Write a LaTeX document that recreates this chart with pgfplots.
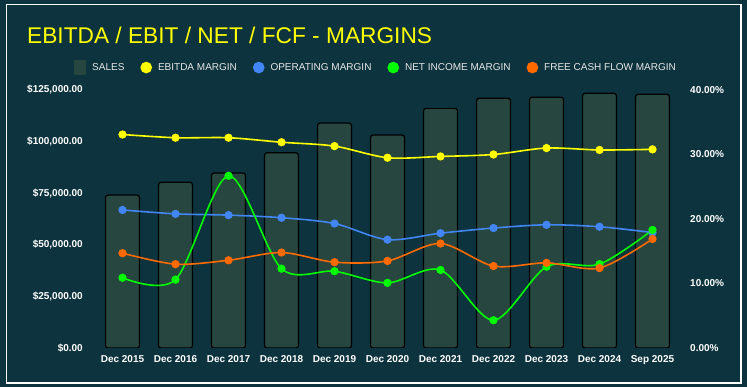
\documentclass[border=0pt]{standalone}
\usepackage{pgfplots}
\pgfplotsset{compat=1.18}
\usepackage{fontspec}
\setmainfont{Liberation Sans}
\definecolor{bgcol}{HTML}{0D343E}
\definecolor{barfill}{HTML}{27463F}
\definecolor{ylw}{HTML}{FFFF00}
\definecolor{blu}{HTML}{4285F4}
\definecolor{grn}{HTML}{00FF00}
\definecolor{org}{HTML}{FF6A00}
\definecolor{lgtext}{HTML}{E6E6E6}
\begin{document}
\begin{tikzpicture}
\useasboundingbox (0,0) rectangle (747bp,387bp);
\fill[bgcol] (0,0) rectangle (747bp,387bp);
\draw[white, line width=1.3bp] (6.5bp,4bp) rectangle (741bp,382.5bp);
\node[anchor=base west, text=ylw, inner sep=0pt, font=\fontsize{22.7bp}{26bp}\selectfont] at (27bp,343bp) {EBITDA / EBIT / NET / FCF - MARGINS};
\pgfplotsset{
  common/.style={
    at={(96bp,39bp)}, anchor=south west, scale only axis,
    width=583bp, height=258bp,
    xmin=-0.5, xmax=10.5,
    axis line style={draw=none},
    major tick style={draw=none}, minor tick style={draw=none},
    tick label style={text=white, font=\fontsize{10bp}{12bp}\selectfont\bfseries},
    scaled y ticks=false,
  }
}
\begin{axis}[common,
  axis y line*=left, axis x line*=bottom,
  ymin=0, ymax=125000,
  xtick={0,1,2,3,4,5,6,7,8,9,10},
  xticklabels={Dec 2015,Dec 2016,Dec 2017,Dec 2018,Dec 2019,Dec 2020,Dec 2021,Dec 2022,Dec 2023,Dec 2024,Sep 2025},
  xticklabel style={inner sep=0pt, yshift=-7bp},
  ytick={0,25000,50000,75000,100000,125000},
  yticklabels={{\$0.00},{\$25,000.00},{\$50,000.00},{\$75,000.00},{\$100,000.00},{\$125,000.00}},
  yticklabel style={inner sep=0pt, xshift=-13bp},
]
\addplot[ybar, bar width=0.64, fill=barfill, draw=black, line width=1.2bp, rounded corners=2.5bp]
  coordinates {(0,74100) (1,80300) (2,84800) (3,94600) (4,109000) (5,103200) (6,116100) (7,121000) (8,121500) (9,123400) (10,122900)};
\end{axis}
\begin{axis}[common,
  axis y line*=right, hide x axis,
  ymin=0, ymax=40,
  ytick={0,10,20,30,40},
  yticklabels={{0.00\%},{10.00\%},{20.00\%},{30.00\%},{40.00\%}},
  yticklabel style={inner sep=0pt, xshift=11bp},
  legend style={at={(rel axis cs:0.479,1.087)}, anchor=center, draw=none, fill=none,
    text=lgtext, font=\fontsize{10bp}{12bp}\selectfont, legend columns=5,
    /tikz/every even column/.append style={column sep=13bp},
    nodes={inner sep=2bp}},
  legend image code/.code={\fill (5bp,0bp) circle (5bp); \path (-1bp,0) (14bp,0);},
  every axis plot/.append style={smooth, tension=0.5, line width=1.6bp, mark=*, mark size=3.3bp},
]
\addlegendimage{legend image code/.code={\fill[barfill] (0bp,-6.5bp) rectangle (11bp,6.5bp); \path (-1bp,0) (15bp,0);}}
\addlegendentry{SALES}
\addplot[color=ylw] coordinates {(0,33.1) (1,32.6) (2,32.6) (3,31.9) (4,31.3) (5,29.5) (6,29.7) (7,30.0) (8,31.0) (9,30.7) (10,30.8)};
\addlegendentry{EBITDA MARGIN}
\addplot[color=blu] coordinates {(0,21.4) (1,20.8) (2,20.6) (3,20.2) (4,19.3) (5,16.8) (6,17.8) (7,18.6) (8,19.1) (9,18.8) (10,17.9)};
\addlegendentry{OPERATING MARGIN}
\addplot[color=grn] coordinates {(0,10.9) (1,10.6) (2,26.7) (3,12.3) (4,11.9) (5,10.1) (6,12.1) (7,4.3) (8,12.6) (9,13.0) (10,18.3)};
\addlegendentry{NET INCOME MARGIN}
\addplot[color=org] coordinates {(0,14.7) (1,13.0) (2,13.6) (3,14.8) (4,13.3) (5,13.5) (6,16.2) (7,12.7) (8,13.2) (9,12.4) (10,16.9)};
\addlegendentry{FREE CASH FLOW MARGIN}
\end{axis}
\end{tikzpicture}
\end{document}
